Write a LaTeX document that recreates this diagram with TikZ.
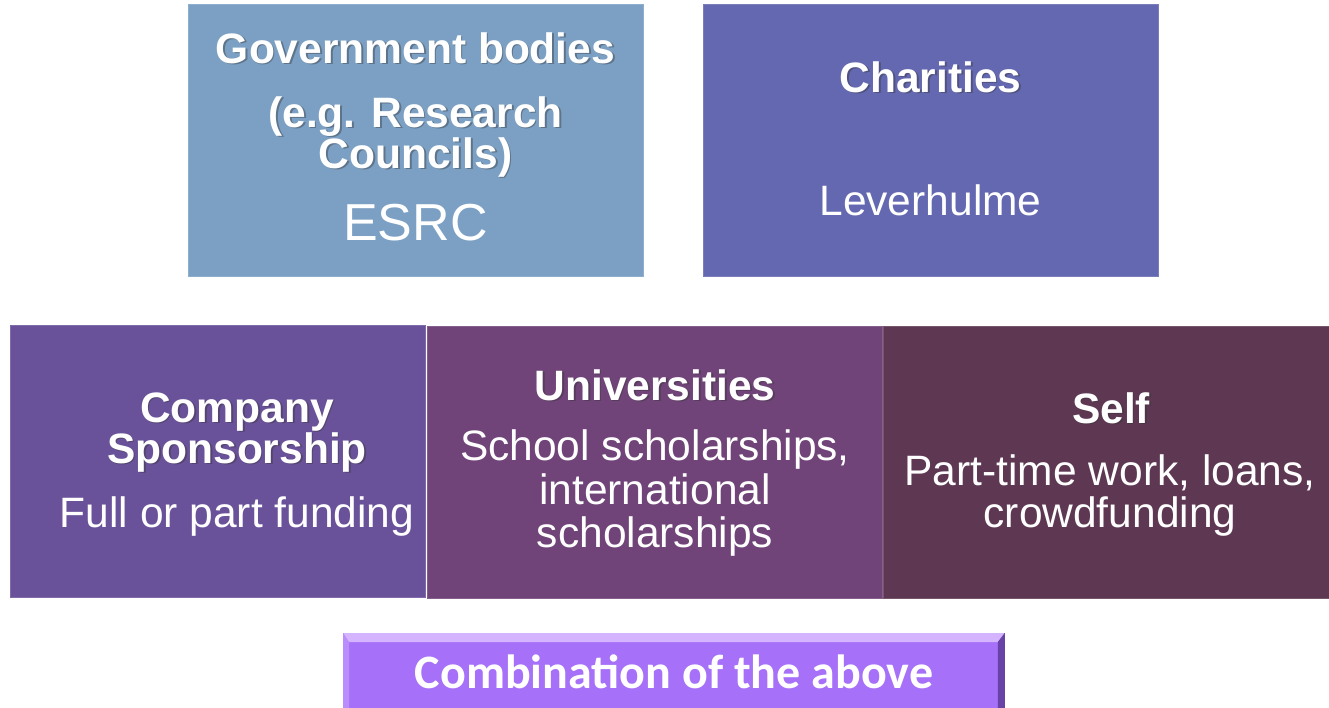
\documentclass[tikz,border=0pt]{standalone}
\usepackage{fontspec}
\setmainfont{Liberation Sans}
\newfontfamily\calfont{Carlito}
\usetikzlibrary{calc}

\definecolor{govblue}{RGB}{123,160,196}
\definecolor{charblue}{RGB}{99,104,176}
\definecolor{compviolet}{RGB}{106,82,154}
\definecolor{uniplum}{RGB}{112,68,120}
\definecolor{selfplum}{RGB}{94,56,83}
\definecolor{combfill}{RGB}{166,112,248}
\definecolor{combtop}{RGB}{212,180,255}
\definecolor{combleft}{RGB}{186,140,252}
\definecolor{combright}{RGB}{104,66,166}

% bold heading line with a soft drop shadow
\newcommand\headline[3]{%
  \node[hd, text=black!80, text opacity=0.4, xshift=1.8pt, yshift=-1.8pt] (#1-sh) at (#2) {#3};
  \node[hd] (#1) at (#2) {#3};}

\begin{document}
\begin{tikzpicture}[x=1pt, y=-1pt,
  panel/.style={draw=#1!85!white, line width=0.8pt, fill=#1, inner sep=0pt,
                anchor=north west, outer sep=0pt},
  hd/.style={anchor=base, inner sep=0pt, text=white,
             font=\fontsize{42.5}{50}\selectfont\bfseries},
  body/.style={anchor=base, inner sep=0pt, text=white,
               font=\fontsize{42.5}{50}\selectfont},
  big/.style={anchor=base, inner sep=0pt, text=white,
              font=\fontsize{52}{60}\selectfont}]
\fill[white] (0,0) rectangle (1329,707);
\useasboundingbox (0,0) rectangle (1329,707);

% top row
\node[panel=govblue, minimum width=455pt, minimum height=272pt] (gov) at (188,4) {};
\node[panel=charblue, minimum width=455pt, minimum height=272pt] (char) at (703,4) {};

% middle row
\node[panel=compviolet, minimum width=415pt, minimum height=272pt] (comp) at (10,325) {};
\node[panel=uniplum, minimum width=455pt, minimum height=272pt] (uni) at (427,326) {};
\node[panel=selfplum, minimum width=446pt, minimum height=272pt] (self) at (883,326) {};

% government bodies
\headline{govA}{415.5,63}{Government bodies}
\headline{govB}{415.5,127}{(e.g. Research}
\headline{govC}{415.5,168}{Councils)}
\node[big] (govD) at (415.5,240) {ESRC};

% charities
\headline{charA}{930.5,92}{Charities}
\node[body] (charB) at (930.5,215) {Leverhulme};

% company sponsorship
\headline{compA}{237,422}{Company}
\headline{compB}{237,463}{Sponsorship}
\node[body] (compC) at (237,527) {Full or part funding};

% universities
\headline{uniA}{655,400}{Universities}
\node[body] (uniB) at (655,460) {School scholarships,};
\node[body] (uniC) at (655,504) {international};
\node[body] (uniD) at (655,547) {scholarships};

% self
\headline{selfA}{1111,423}{Self}
\node[body] (selfB) at (1110,485) {Part-time work, loans,};
\node[body] (selfC) at (1110,527) {crowdfunding};

% bevelled button at the bottom
\node[fill=combfill, draw=combright!80!black, line width=0.8pt, inner sep=0pt,
      minimum width=661pt, minimum height=76pt, anchor=north west] (comb) at (343,633) {};
\fill[combtop] (comb.north west) -- (comb.north east)
  -- ($(comb.north east)+(-7,9)$) -- ($(comb.north west)+(6,9)$) -- cycle;
\fill[combleft] (comb.north west) -- ($(comb.north west)+(6,9)$)
  -- ($(comb.south west)+(6,0)$) -- (comb.south west) -- cycle;
\fill[combright] (comb.north east) -- ($(comb.north east)+(-7,9)$)
  -- ($(comb.south east)+(-7,0)$) -- (comb.south east) -- cycle;
\node[anchor=base, inner sep=0pt, text=white, font=\fontsize{48}{56}\calfont\bfseries]
  (combtext) at (674,688) {Combination of the above};
\end{tikzpicture}
\end{document}
